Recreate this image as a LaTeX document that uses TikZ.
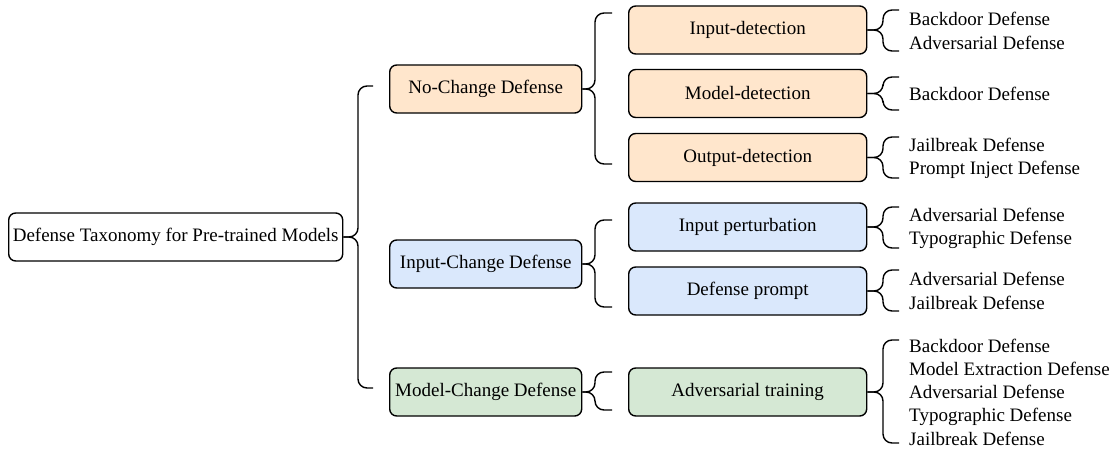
\documentclass[tikz,border=0pt]{standalone}
\usepackage{fontspec}
\setmainfont{Liberation Serif}
\definecolor{orangef}{HTML}{FFE6CC}
\definecolor{bluef}{HTML}{DAE8FC}
\definecolor{greenf}{HTML}{D5E8D4}
\tikzset{
  box/.style={draw=black, line width=1.4pt, rounded corners=7pt, minimum height=48pt,
    inner sep=0pt, anchor=west, font=\fontsize{19}{23}\selectfont},
  rootbox/.style={box, fill=white, minimum width=334pt},
  lvone/.style={box, minimum width=192pt},
  lvtwo/.style={box, minimum width=238pt},
  leaf/.style={anchor=west, align=left, inner sep=0pt, font=\fontsize{19}{23.3}\selectfont},
  bline/.style={draw=black, line width=1.4pt, rounded corners=9pt},
}
\newcommand\mybrace[5]{%
  \coordinate (#1-bt) at (#2,#3);
  \coordinate (#1-bb) at (#2,#4);
  \coordinate (#1-et) at (#5,#3);
  \coordinate (#1-eb) at (#5,#4);
  \draw[bline] (#1.east) -| (#1-bt) -- (#1-et);
  \draw[bline] (#1.east) -| (#1-bb) -- (#1-eb);}
\begin{document}
\begin{tikzpicture}[x=1pt,y=-1pt]
\useasboundingbox (0,0) rectangle (1116,452);
% root
\node[rootbox] (root) at (8,237) {Defense Taxonomy for Pre-trained Models};
% level 1
\node[lvone, fill=orangef] (nc) at (389,89) {No-Change Defense};
\node[lvone, fill=bluef] (ic) at (389,264) {Input-Change Defense};
\node[lvone, fill=greenf] (mc) at (389,392) {Model-Change Defense};
% level 2
\node[lvtwo, fill=orangef] (id) at (628,30) {Input-detection};
\node[lvtwo, fill=orangef] (md) at (628,93.5) {Model-detection};
\node[lvtwo, fill=orangef] (od) at (628,157.5) {Output-detection};
\node[lvtwo, fill=bluef] (ip) at (628,227) {Input perturbation};
\node[lvtwo, fill=bluef] (dp) at (628,291) {Defense prompt};
\node[lvtwo, fill=greenf] (at) at (628,392) {Adversarial training};
% leaves
\node[leaf] (lid) at (909,31) {Backdoor Defense\\Adversarial Defense};
\node[leaf] (lmd) at (909,93.5) {Backdoor Defense};
\node[leaf] (lod) at (909,158) {Jailbreak Defense\\Prompt Inject Defense};
\node[leaf] (lip) at (909,228.5) {Adversarial Defense\\Typographic Defense};
\node[leaf] (ldp) at (909,291) {Adversarial Defense\\Jailbreak Defense};
\node[leaf] (lat) at (909,392) {Backdoor Defense\\Model Extraction Defense\\Adversarial Defense\\Typographic Defense\\Jailbreak Defense};
% braces
\mybrace{root}{358}{86}{388}{373}
\mybrace{nc}{595}{13}{164}{612}
\mybrace{ic}{595}{220}{307}{612}
\mybrace{mc}{595}{372}{410}{612}
\mybrace{id}{883}{10}{51}{899}
\mybrace{md}{883}{77}{110}{899}
\mybrace{od}{883}{137}{178}{899}
\mybrace{ip}{883}{207}{248}{899}
\mybrace{dp}{883}{270}{311}{899}
\mybrace{at}{883}{340}{443}{899}
\end{tikzpicture}
\end{document}
